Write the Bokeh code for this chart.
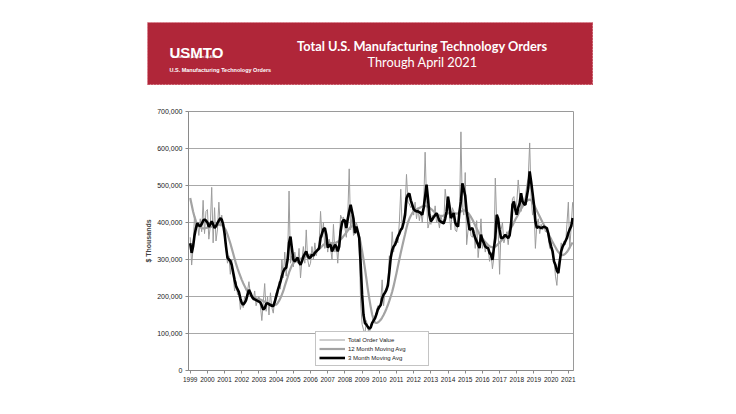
from bokeh.plotting import figure
from bokeh.models import (ColumnDataSource, FixedTicker, NumeralTickFormatter,
                          Legend, LegendItem, Label)
from bokeh.layouts import column, row
from bokeh.embed import file_html
from bokeh.resources import INLINE
import pandas as pd

# ---------------- data (values in $ millions, i.e. thousands of "$ Thousands") ----
first_month = "1999-01"
last_month = "2021-04"
year_ticks = list(range(1999, 2022))

total_k = [
    360, 285, 330, 420, 380, 400, 365, 410, 375, 460, 370, 430,   # 1999
    435, 355, 390, 495, 345, 440, 350, 380, 455, 390, 420, 395,   # 2000
    360, 330, 290, 310, 260, 300, 255, 215, 240, 205, 215, 165,   # 2001
    185, 170, 200, 185, 215, 240, 205, 195, 190, 215, 175, 190,   # 2002
    200, 175, 135, 185, 235, 160, 200, 150, 210, 170, 155, 195,   # 2003
    210, 200, 240, 220, 300, 250, 320, 255, 300, 485, 290, 310,   # 2004
    280, 320, 295, 290, 330, 250, 300, 335, 290, 380, 300, 280,   # 2005
    290, 335, 300, 345, 310, 330, 340, 430, 360, 400, 330, 360,   # 2006
    320, 355, 330, 300, 395, 320, 345, 290, 350, 420, 410, 415,   # 2007
    385, 360, 420, 545, 380, 420, 365, 370, 400, 385, 330, 180,   # 2008
    125, 110, 100, 135, 115, 95, 125, 130, 135, 145, 160, 175,    # 2009
    165, 185, 245, 175, 215, 225, 240, 310, 300, 375, 320, 350,   # 2010
    360, 345, 400, 490, 380, 410, 440, 530, 455, 450, 440, 445,   # 2011
    420, 455, 410, 440, 405, 430, 400, 445, 590, 460, 385, 400,   # 2012
    395, 420, 410, 445, 400, 410, 385, 420, 400, 395, 490, 455,   # 2013
    470, 420, 380, 440, 430, 380, 375, 400, 420, 645, 440, 420,   # 2014
    535, 340, 380, 420, 365, 360, 380, 330, 405, 305, 345, 410,   # 2015
    330, 350, 320, 340, 330, 295, 320, 275, 305, 520, 400, 380,   # 2016
    260, 380, 400, 345, 360, 375, 340, 380, 420, 465, 470, 420,   # 2017
    455, 515, 470, 430, 470, 450, 470, 500, 520, 615, 470, 420,   # 2018
    440, 330, 395, 410, 370, 395, 380, 390, 375, 380, 360, 330,   # 2019
    350, 310, 300, 255, 230, 290, 300, 345, 330, 350, 340, 395,   # 2020
    455, 330, 390, 455,                                           # 2021
]

ma12_k = [
    466, 448, 430, 415, 403, 395, 390, 387, 385, 384, 384, 385,
    386, 387, 388, 389, 390, 391, 392, 393, 394, 394, 393, 390,
    385, 378, 368, 356, 344, 330, 316, 302, 288, 276, 265, 255,
    245, 236, 228, 220, 213, 208, 204, 201, 199, 197, 195, 194,
    193, 192, 190, 188, 186, 184, 182, 180, 178, 177, 176, 177,
    178, 182, 188, 196, 205, 215, 228, 240, 252, 265, 275, 284,
    290, 294, 297, 299, 300, 302, 303, 304, 306, 308, 310, 312,
    313, 315, 317, 320, 322, 325, 328, 332, 336, 340, 342, 343,
    344, 345, 345, 344, 344, 345, 346, 348, 350, 354, 358, 363,
    368, 373, 378, 383, 388, 390, 390, 388, 383, 375, 362, 345,
    323, 300, 275, 248, 220, 195, 172, 152, 138, 130, 128, 130,
    133, 137, 143, 150, 158, 167, 177, 188, 200, 213, 228, 245,
    263, 282, 300, 318, 335, 352, 368, 385, 400, 410, 418, 425,
    430, 433, 435, 437, 439, 441, 443, 444, 445, 444, 442, 440,
    437, 434, 430, 427, 424, 421, 419, 418, 418, 419, 421, 423,
    425, 426, 427, 427, 426, 425, 424, 425, 428, 430, 432, 433,
    432, 430, 426, 421, 415, 408, 400, 392, 384, 376, 368, 362,
    357, 352, 347, 343, 339, 336, 334, 333, 333, 335, 338, 342,
    346, 350, 354, 358, 362, 367, 372, 378, 385, 392, 400, 408,
    415, 422, 430, 437, 443, 449, 454, 458, 461, 462, 460, 455,
    448, 440, 432, 424, 416, 408, 400, 393, 386, 378, 370, 362,
    355, 347, 340, 333, 326, 320, 316, 313, 312, 313, 316, 320,
    326, 333, 340, 346,
]

ma3_k = [
    344, 318, 335, 365, 385, 398, 392, 390, 396, 405, 408, 405,
    400, 388, 395, 403, 395, 385, 390, 398, 405, 412, 408, 395,
    370, 335, 305, 300, 296, 285, 265, 245, 228, 220, 212, 195,
    182, 178, 183, 190, 205, 218, 210, 200, 195, 192, 190, 188,
    186, 184, 175, 165, 168, 180, 182, 179, 177, 175, 174, 185,
    200, 215, 228, 240, 255, 268, 275, 278, 300, 345, 362, 330,
    300, 295, 300, 305, 292, 286, 295, 308, 315, 322, 310, 304,
    306, 313, 310, 318, 322, 326, 330, 358, 370, 382, 385, 367,
    332, 338, 340, 322, 330, 340, 335, 322, 335, 376, 400, 407,
    405, 385, 410, 430, 448, 430, 410, 371, 389, 375, 358, 288,
    205, 150, 128, 124, 118, 113, 116, 128, 135, 141, 152, 165,
    172, 177, 195, 205, 210, 218, 230, 265, 305, 325, 335, 340,
    350, 362, 370, 380, 385, 400, 420, 465, 475, 478, 460, 448,
    436, 432, 430, 430, 428, 425, 421, 440, 470, 502, 465, 420,
    403, 408, 415, 420, 425, 415, 405, 402, 400, 398, 410, 430,
    470, 445, 412, 420, 425, 400, 392, 389, 430, 457, 506, 490,
    472, 430, 405, 380, 383, 385, 370, 358, 349, 340, 331, 367,
    353, 345, 335, 332, 331, 318, 313, 299, 330, 358, 421, 410,
    380, 358, 358, 362, 367, 362, 358, 365, 394, 448, 457, 435,
    421, 440, 452, 479, 457, 450, 448, 470, 493, 538, 511, 480,
    448, 403, 385, 389, 387, 385, 387, 389, 387, 385, 371, 349,
    335, 322, 295, 285, 270, 263, 295, 322, 335, 342, 350, 358,
    372, 382, 390, 412,
]

months = pd.period_range(first_month, last_month, freq="M")
xpos = list(months.year + (months.month - 1) / 12.0)

src = ColumnDataSource(dict(
    x=xpos,
    total=[v * 1000 for v in total_k],
    ma12=[v * 1000 for v in ma12_k],
    ma3=[v * 1000 for v in ma3_k],
))

# ---------------- banner ----------------
RED = "#B02639"
banner = figure(width=446, height=63, output_backend="svg", toolbar_location=None,
                x_range=(0, 446), y_range=(0, 63), min_border=0,
                min_border_left=0, min_border_right=0,
                min_border_top=0, min_border_bottom=0,
                x_axis_location=None, y_axis_location=None)
banner.grid.visible = False
banner.background_fill_color = RED
banner.border_fill_color = RED
banner.outline_line_color = "#d9808c"
banner.outline_line_dash = "2 1"

banner.add_layout(Label(x=275, y=17.5 + 22, text="Total U.S. Manufacturing Technology Orders",
                        text_align="center", text_baseline="alphabetic",
                        text_font="Lato", text_font_style="bold",
                        text_font_size="12.8px", text_color="white"))
banner.add_layout(Label(x=275, y=23.5, text="Through April 2021",
                        text_align="center", text_baseline="alphabetic",
                        text_font="Lato", text_font_size="12.8px", text_color="white"))
banner.add_layout(Label(x=22, y=33, text="USMTO",
                        text_align="left", text_baseline="alphabetic",
                        text_font="Liberation Sans", text_font_style="bold",
                        text_font_size="15px", text_color="white"))
banner.add_layout(Label(x=25, y=28.5, text="A statistical program by AMT",
                        text_align="left", text_baseline="alphabetic",
                        text_font="Liberation Sans", text_font_style="italic",
                        text_font_size="3.5px", text_color="white"))
banner.add_layout(Label(x=22, y=16, text="U.S. Manufacturing Technology Orders",
                        text_align="left", text_baseline="alphabetic",
                        text_font="Liberation Sans", text_font_style="bold",
                        text_font_size="5.5px", text_color="white"))

banner_box = row(banner, margin=(22, 0, 0, 147))

# ---------------- chart ----------------
FONT = "Liberation Sans"
p = figure(width=730, height=313, output_backend="svg", toolbar_location=None,
           x_range=(1998.9, 2021.3), y_range=(0, 700000),
           min_border_left=188, min_border_right=157,
           min_border_top=26, min_border_bottom=28)
p.background_fill_color = "white"
p.border_fill_color = "white"
p.outline_line_color = "#9a9a9a"

r_total = p.line("x", "total", source=src, line_color="#9c9c9c", line_width=1)
r_ma12 = p.line("x", "ma12", source=src, line_color="#a3a3a3", line_width=2.2)
r_ma3 = p.line("x", "ma3", source=src, line_color="black", line_width=2.6)

p.xgrid.visible = False
p.ygrid.grid_line_color = "#a8a8a8"
p.ygrid.grid_line_width = 1
p.ygrid.ticker = FixedTicker(ticks=list(range(0, 700001, 100000)))

p.yaxis.ticker = FixedTicker(ticks=list(range(0, 700001, 100000)))
p.yaxis.formatter = NumeralTickFormatter(format="0,0")
p.yaxis.axis_label = "$ Thousands"
p.yaxis.axis_label_text_font = FONT
p.yaxis.axis_label_text_font_style = "bold"
p.yaxis.axis_label_text_font_size = "7px"
p.yaxis.axis_label_standoff = 2
p.yaxis.major_label_text_font_size = "7px"
p.yaxis.major_label_standoff = 3

p.xaxis.ticker = FixedTicker(ticks=year_ticks)
p.xaxis.formatter = NumeralTickFormatter(format="0")
p.xaxis.major_label_text_font_size = "6.5px"
p.xaxis.major_label_standoff = 3

for ax in (p.xaxis, p.yaxis):
    ax.major_label_text_font = FONT
    ax.major_label_text_color = "#222222"
    ax.axis_line_color = "#8a8a8a"
    ax.major_tick_line_color = "#8a8a8a"
    ax.major_tick_out = 3
    ax.major_tick_in = 0
    ax.minor_tick_line_color = None

legend = Legend(items=[
    LegendItem(label="Total Order Value", renderers=[r_total]),
    LegendItem(label="12 Month Moving Avg", renderers=[r_ma12]),
    LegendItem(label="3 Month Moving Avg", renderers=[r_ma3]),
], location=(127, 4))
legend.label_text_font = FONT
legend.label_text_font_size = "6px"
legend.label_text_color = "#222222"
legend.glyph_width = 26
legend.glyph_height = 9
legend.label_height = 9
legend.label_width = 77
legend.label_standoff = 3
legend.spacing = 0
legend.padding = 3
legend.margin = 0
legend.border_line_color = "#8a8a8a"
legend.background_fill_color = "white"
legend.background_fill_alpha = 1
p.add_layout(legend, "center")

layout = column(banner_box, p, spacing=0)

open("out.html", "w").write(file_html(layout, INLINE))
